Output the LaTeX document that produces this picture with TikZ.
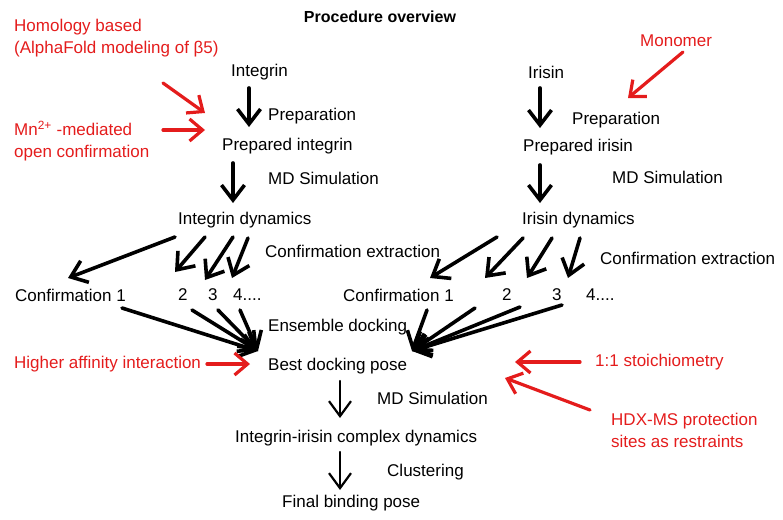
\documentclass[tikz,border=0pt]{standalone}
\usepackage{fontspec}
\setmainfont{Liberation Sans}
\usetikzlibrary{arrows.meta}
\definecolor{myred}{RGB}{228,28,28}
\tikzset{
  lbl/.style={font=\fontsize{17}{22}\selectfont, inner sep=0pt, anchor=west, align=left},
  rlbl/.style={lbl, text=myred},
  blk/.style={line width=3.6pt, line cap=round, -{Straight Barb[length=15pt,width=23pt,line width=3.6pt]}},
  blkthin/.style={line width=2.2pt, line cap=round, -{Straight Barb[length=15pt,width=22pt,line width=2.2pt]}},
  redarr/.style={myred, line width=3.2pt, line cap=round, -{Straight Barb[length=13pt,width=22pt,line width=3.2pt]}},
}
\begin{document}
\begin{tikzpicture}[x=1pt,y=-1pt]
\useasboundingbox (0,0) rectangle (783,519);
% title
\node[font=\bfseries\fontsize{16}{18}\selectfont, inner sep=0pt] (title) at (380,17) {Procedure overview};
% red annotations
\node[rlbl] (hom) at (14,38) {Homology based\\(AlphaFold modeling of β5)};
\node[rlbl] (mn) at (14,141) {Mn\textsuperscript{2+} -mediated\\open confirmation};
\node[rlbl] (mono) at (640,41) {Monomer};
\node[rlbl] (hai) at (14,364) {Higher affinity interaction};
\node[rlbl] (stoich) at (595,362) {1:1 stoichiometry};
\node[rlbl] (hdx) at (611,430) {HDX-MS protection\\sites as restraints};
% left column
\node[lbl] (integrin) at (231,72) {Integrin};
\node[lbl] (prep1) at (268,116) {Preparation};
\node[lbl] (pint) at (222,146) {Prepared integrin};
\node[lbl] (md1) at (268,178) {MD Simulation};
\node[lbl] (idyn) at (178,220) {Integrin dynamics};
\node[lbl] (cext1) at (265,251) {Confirmation extraction};
\node[lbl] (c1) at (15,295) {Confirmation 1};
\node[lbl] (c2) at (178,295) {2};
\node[lbl] (c3) at (208,295) {3};
\node[lbl] (c4) at (233,295) {4....};
% right column
\node[lbl] (irisin) at (528,72) {Irisin};
\node[lbl] (prep2) at (572,120) {Preparation};
\node[lbl] (pir) at (523,147) {Prepared irisin};
\node[lbl] (md2) at (612,177) {MD Simulation};
\node[lbl] (irdyn) at (522,220) {Irisin dynamics};
\node[lbl] (cext2) at (600,258) {Confirmation extraction};
\node[lbl] (d1) at (343,295) {Confirmation 1};
\node[lbl] (d2) at (502,295) {2};
\node[lbl] (d3) at (552,295) {3};
\node[lbl] (d4) at (586,295) {4....};
% bottom
\node[lbl] (ens) at (268,327) {Ensemble docking};
\node[lbl] (best) at (268,366) {Best docking pose};
\node[lbl] (md3) at (377,398) {MD Simulation};
\node[lbl] (cplx) at (235,438) {Integrin-irisin complex dynamics};
\node[lbl] (clust) at (387,472) {Clustering};
\node[lbl] (final) at (282,503) {Final binding pose};
% arrow end points
\coordinate (a1s) at (249,88);  \coordinate (a1e) at (249,127);
\coordinate (a2s) at (233,163); \coordinate (a2e) at (233,203);
\coordinate (a3s) at (540,88);  \coordinate (a3e) at (540,128);
\coordinate (a4s) at (540,165); \coordinate (a4e) at (540,203);
\coordinate (fl1s) at (175,237); \coordinate (fl1e) at (68,278);
\coordinate (fl2s) at (205,237); \coordinate (fl2e) at (175,272);
\coordinate (fl3s) at (233,237); \coordinate (fl3e) at (205,280);
\coordinate (fl4s) at (248,238); \coordinate (fl4e) at (232,278);
\coordinate (fr1s) at (497,237); \coordinate (fr1e) at (430,278);
\coordinate (fr2s) at (523,238); \coordinate (fr2e) at (485,278);
\coordinate (fr3s) at (552,238); \coordinate (fr3e) at (527,278);
\coordinate (fr4s) at (580,238); \coordinate (fr4e) at (568,278);
\coordinate (cl1) at (122,308); \coordinate (cl2) at (192,310);
\coordinate (cl3) at (218,310); \coordinate (cl4) at (240,310);
\coordinate (tipL) at (258,351);
\coordinate (cr1) at (427,310); \coordinate (cr2) at (475,308);
\coordinate (cr3) at (520,307); \coordinate (cr4) at (562,305);
\coordinate (tipR) at (412,351);
\coordinate (b1s) at (340,381); \coordinate (b1e) at (340,418);
\coordinate (b2s) at (340,452); \coordinate (b2e) at (340,490);
\coordinate (r1s) at (163,83);  \coordinate (r1e) at (205,113);
\coordinate (r2s) at (163,130); \coordinate (r2e) at (205,130);
\coordinate (r3s) at (683,52);  \coordinate (r3e) at (628,98);
\coordinate (r4s) at (207,364); \coordinate (r4e) at (250,364);
\coordinate (r5s) at (580,362); \coordinate (r5e) at (515,362);
\coordinate (r6s) at (590,410); \coordinate (r6e) at (505,378);
% black arrows
\draw[blk] (a1s) -- (a1e);
\draw[blk] (a2s) -- (a2e);
\draw[blk] (a3s) -- (a3e);
\draw[blk] (a4s) -- (a4e);
\foreach \i in {1,2,3,4} {
  \draw[blk] (fl\i s) -- (fl\i e);
  \draw[blk] (fr\i s) -- (fr\i e);
  \draw[blk] (cl\i) -- (tipL);
  \draw[blk] (cr\i) -- (tipR);
}
\draw[blkthin] (b1s) -- (b1e);
\draw[blkthin] (b2s) -- (b2e);
% red arrows
\foreach \i in {1,...,6} { \draw[redarr] (r\i s) -- (r\i e); }
\end{tikzpicture}
\end{document}
